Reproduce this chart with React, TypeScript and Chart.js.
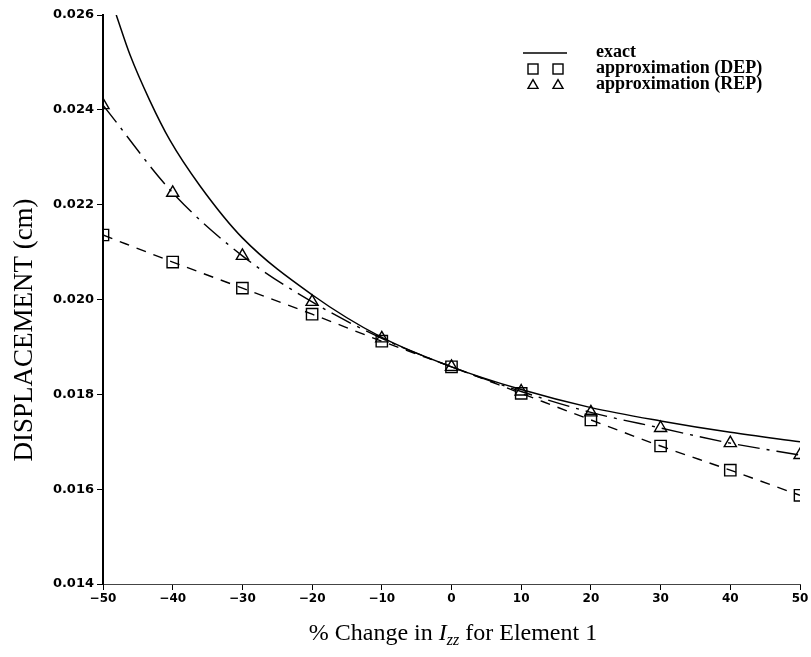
import React, { useEffect, useRef } from "react";
import { Chart, registerables } from "chart.js";

Chart.register(...registerables);

// ---- data ----
const xTickValues = [-50, -40, -30, -20, -10, 0, 10, 20, 30, 40, 50];
const yTickValues = [0.014, 0.016, 0.018, 0.02, 0.022, 0.024, 0.026];

const exactX = [-48.1, -46.1, -43.3, -40.4, -36.1, -30, -20, -10, 0, 10, 20, 30, 40, 50];
const exactY = [0.026, 0.02515, 0.0242, 0.02336, 0.0224, 0.0213, 0.0201, 0.0192, 0.01858, 0.0181, 0.01772, 0.01744, 0.0172, 0.017];

const approxX = [-50, -40, -30, -20, -10, 0, 10, 20, 30, 40, 50];
const depY = [0.02136, 0.02079, 0.02024, 0.01969, 0.01912, 0.01858, 0.01802, 0.01746, 0.01691, 0.0164, 0.01587];
const repY = [0.0241, 0.02225, 0.02092, 0.01995, 0.01918, 0.01858, 0.01806, 0.01762, 0.01729, 0.01697, 0.01672];

const legendLabels = ["exact", "approximation (DEP)", "approximation (REP)"];
const yTitle = "DISPLACEMENT (cm)";

const SERIF = "'Liberation Serif', 'Times New Roman', serif";
const SANS = "'DejaVu Sans', 'Liberation Sans', sans-serif";

function drawSquare(ctx: CanvasRenderingContext2D, x: number, y: number, s: number) {
  ctx.strokeRect(x - s / 2, y - s / 2, s, s);
}
function drawTriangle(ctx: CanvasRenderingContext2D, x: number, y: number, s: number) {
  const h = s * 0.87;
  ctx.beginPath();
  ctx.moveTo(x, y - h / 2);
  ctx.lineTo(x + s / 2, y + h / 2);
  ctx.lineTo(x - s / 2, y + h / 2);
  ctx.closePath();
  ctx.stroke();
}

const decorPlugin = {
  id: "decor",
  afterDraw(chart: any) {
    const ctx: CanvasRenderingContext2D = chart.ctx;
    ctx.save();
    ctx.fillStyle = "#000";
    ctx.strokeStyle = "#000";

    // legend
    ctx.lineWidth = 1.6;
    ctx.beginPath();
    ctx.moveTo(523, 53);
    ctx.lineTo(567, 53);
    ctx.stroke();
    ctx.lineWidth = 1.4;
    drawSquare(ctx, 533, 69, 10);
    drawSquare(ctx, 558, 69, 10);
    drawTriangle(ctx, 533, 84, 10);
    drawTriangle(ctx, 558, 84, 10);
    ctx.font = `bold 18px ${SERIF}`;
    ctx.textBaseline = "middle";
    ctx.textAlign = "left";
    ctx.fillText(legendLabels[0], 596, 52);
    ctx.fillText(legendLabels[1], 596, 68);
    ctx.fillText(legendLabels[2], 596, 84);

    // y title
    ctx.save();
    ctx.translate(32, 330);
    ctx.rotate(-Math.PI / 2);
    ctx.font = `27px ${SERIF}`;
    ctx.textAlign = "center";
    ctx.textBaseline = "alphabetic";
    ctx.fillText(yTitle, 0, 0);
    ctx.restore();

    // x title with italic I and subscript zz
    const segs = [
      { t: "% Change in ", f: `24px ${SERIF}`, dy: 0 },
      { t: "I", f: `italic 24px ${SERIF}`, dy: 0 },
      { t: "zz", f: `italic 16px ${SERIF}`, dy: 5 },
      { t: " for Element 1", f: `24px ${SERIF}`, dy: 0 },
    ];
    let total = 0;
    for (const s of segs) {
      ctx.font = s.f;
      total += ctx.measureText(s.t).width;
    }
    let x = 453 - total / 2;
    ctx.textAlign = "left";
    ctx.textBaseline = "alphabetic";
    for (const s of segs) {
      ctx.font = s.f;
      ctx.fillText(s.t, x, 640 + s.dy);
      x += ctx.measureText(s.t).width;
    }
    ctx.restore();
  },
};

export default function App() {
  const ref = useRef<HTMLCanvasElement | null>(null);

  useEffect(() => {
    if (!ref.current) return;
    const chart = new Chart(ref.current, {
      type: "line",
      data: {
        datasets: [
          {
            label: legendLabels[0],
            data: exactX.map((x, i) => ({ x, y: exactY[i] })),
            borderColor: "#000",
            borderWidth: 1.5,
            pointRadius: 0,
            cubicInterpolationMode: "monotone",
            fill: false,
          },
          {
            label: legendLabels[1],
            data: approxX.map((x, i) => ({ x, y: depY[i] })),
            borderColor: "#000",
            borderWidth: 1.4,
            borderDash: [10, 8],
            pointStyle: "rect",
            pointRadius: 8,
            pointBorderWidth: 1.4,
            pointBorderColor: "#000",
            pointBackgroundColor: "rgba(0,0,0,0)",
            cubicInterpolationMode: "monotone",
            fill: false,
          },
          {
            label: legendLabels[2],
            data: approxX.map((x, i) => ({ x, y: repY[i] })),
            borderColor: "#000",
            borderWidth: 1.4,
            borderDash: [22, 7, 3, 7],
            pointStyle: "triangle",
            pointRadius: 7,
            pointBorderWidth: 1.4,
            pointBorderColor: "#000",
            pointBackgroundColor: "rgba(0,0,0,0)",
            cubicInterpolationMode: "monotone",
            fill: false,
          },
        ],
      },
      options: {
        animation: false,
        responsive: false,
        layout: { padding: { top: 15, right: 11, bottom: 43, left: 0 } },
        plugins: { legend: { display: false }, tooltip: { enabled: false } },
        scales: {
          x: {
            type: "linear",
            min: -50,
            max: 50,
            afterBuildTicks: (s: any) => {
              s.ticks = xTickValues.map((v) => ({ value: v }));
            },
            afterFit: (s: any) => {
              s.height = 30;
            },
            ticks: {
              autoSkip: false,
              maxRotation: 0,
              padding: 2,
              color: "#000",
              font: { family: SANS, weight: "bold", size: 12 },
              callback: (v: any) => String(v).replace("-", "\u2212"),
            },
            grid: { display: true, drawOnChartArea: false, drawTicks: true, tickLength: 6, color: "#000", lineWidth: 1 },
            border: { display: true, color: "#444", width: 1 },
          },
          y: {
            type: "linear",
            min: 0.014,
            max: 0.026,
            afterBuildTicks: (s: any) => {
              s.ticks = yTickValues.map((v) => ({ value: v }));
            },
            afterFit: (s: any) => {
              s.width = 103;
            },
            ticks: {
              autoSkip: false,
              padding: 3,
              color: "#000",
              font: { family: SANS, weight: "bold", size: 13 },
              callback: (v: any) => Number(v).toFixed(3),
            },
            grid: { display: true, drawOnChartArea: false, drawTicks: true, tickLength: 6, color: "#000", lineWidth: 1 },
            border: { display: true, color: "#000", width: 2 },
          },
        },
      },
      plugins: [decorPlugin],
    } as any);
    return () => chart.destroy();
  }, []);

  return (
    <div style={{ position: "absolute", left: 0, top: 0, width: 811, height: 657, background: "#fff" }}>
      <canvas ref={ref} width={811} height={657} style={{ display: "block" }} />
    </div>
  );
}
